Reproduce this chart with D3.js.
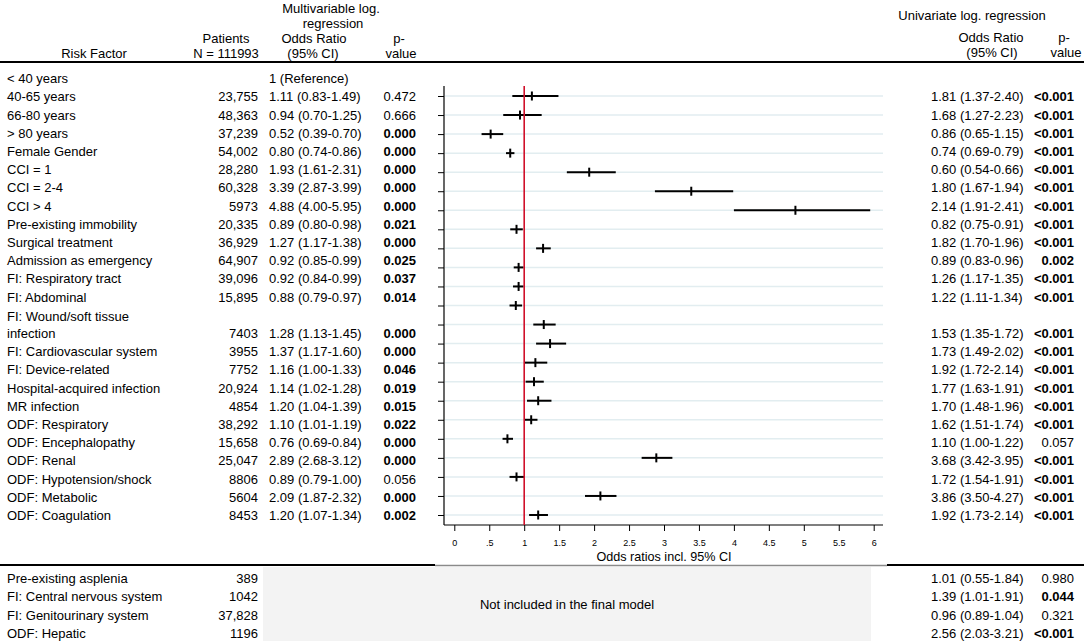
<!DOCTYPE html>
<html>
<head>
<meta charset="utf-8">
<script src="https://cdn.jsdelivr.net/npm/d3@7"></script>
<style>
  body { margin: 0; background: #fff; }
  svg { display: block; font-family: "Liberation Sans", Arial, sans-serif; }
</style>
</head>
<body>
<svg id="chart" width="1084" height="644"></svg>
<script>
// ---------- DATA ----------
const factors = ["40-65 years", "66-80 years", "> 80 years", "Female Gender", "CCI = 1", "CCI = 2-4", "CCI > 4",
  "Pre-existing immobility", "Surgical treatment", "Admission as emergency", "FI: Respiratory tract", "FI: Abdominal",
  "FI: Wound/soft tissue|infection", "FI: Cardiovascular system", "FI: Device-related", "Hospital-acquired infection",
  "MR infection", "ODF: Respiratory", "ODF: Encephalopathy", "ODF: Renal", "ODF: Hypotension/shock",
  "ODF: Metabolic", "ODF: Coagulation"];
const patients = ["23,755", "48,363", "37,239", "54,002", "28,280", "60,328", "5973", "20,335", "36,929", "64,907",
  "39,096", "15,895", "7403", "3955", "7752", "20,924", "4854", "38,292", "15,658", "25,047", "8806", "5604", "8453"];
const orMulti = [1.11, 0.94, 0.52, 0.80, 1.93, 3.39, 4.88, 0.89, 1.27, 0.92, 0.92, 0.88, 1.28, 1.37, 1.16, 1.14, 1.20, 1.10, 0.76, 2.89, 0.89, 2.09, 1.20];
const loMulti = [0.83, 0.70, 0.39, 0.74, 1.61, 2.87, 4.00, 0.80, 1.17, 0.85, 0.84, 0.79, 1.13, 1.17, 1.00, 1.02, 1.04, 1.01, 0.69, 2.68, 0.79, 1.87, 1.07];
const hiMulti = [1.49, 1.25, 0.70, 0.86, 2.31, 3.99, 5.95, 0.98, 1.38, 0.99, 0.99, 0.97, 1.45, 1.60, 1.33, 1.28, 1.39, 1.19, 0.84, 3.12, 1.00, 2.32, 1.34];
const pMulti = ["0.472", "0.666", "0.000", "0.000", "0.000", "0.000", "0.000", "0.021", "0.000", "0.025", "0.037", "0.014",
  "0.000", "0.000", "0.046", "0.019", "0.015", "0.022", "0.000", "0.000", "0.056", "0.000", "0.002"];
const orUni = [1.81, 1.68, 0.86, 0.74, 0.60, 1.80, 2.14, 0.82, 1.82, 0.89, 1.26, 1.22, 1.53, 1.73, 1.92, 1.77, 1.70, 1.62, 1.10, 3.68, 1.72, 3.86, 1.92];
const loUni = [1.37, 1.27, 0.65, 0.69, 0.54, 1.67, 1.91, 0.75, 1.70, 0.83, 1.17, 1.11, 1.35, 1.49, 1.72, 1.63, 1.48, 1.51, 1.00, 3.42, 1.54, 3.50, 1.73];
const hiUni = [2.40, 2.23, 1.15, 0.79, 0.66, 1.94, 2.41, 0.91, 1.96, 0.96, 1.35, 1.34, 1.72, 2.02, 2.14, 1.91, 1.96, 1.74, 1.22, 3.95, 1.91, 4.27, 2.14];
const pUni = ["<0.001", "<0.001", "<0.001", "<0.001", "<0.001", "<0.001", "<0.001", "<0.001", "<0.001", "0.002", "<0.001", "<0.001",
  "<0.001", "<0.001", "<0.001", "<0.001", "<0.001", "<0.001", "0.057", "<0.001", "<0.001", "<0.001", "<0.001"];

const refLabel = "< 40 years";
const refText = "1 (Reference)";

const exFactors = ["Pre-existing asplenia", "FI: Central nervous system", "FI: Genitourinary system", "ODF: Hepatic"];
const exPatients = ["389", "1042", "37,828", "1196"];
const exOr = [1.01, 1.39, 0.96, 2.56];
const exLo = [0.55, 1.01, 0.89, 2.03];
const exHi = [1.84, 1.91, 1.04, 3.21];
const exP = ["0.980", "0.044", "0.321", "<0.001"];
const exNote = "Not included in the final model";

const xTicks = [0, 0.5, 1, 1.5, 2, 2.5, 3, 3.5, 4, 4.5, 5, 5.5, 6];
const xTitle = "Odds ratios incl. 95% CI";

// ---------- HELPERS ----------
const fmt = d3.format(".2f");
const ciText = (o, l, h) => `${fmt(o)} (${fmt(l)}-${fmt(h)})`;
const pNum = s => s.startsWith("<") ? parseFloat(s.slice(1)) * 0.9 : parseFloat(s);
const isBold = s => pNum(s) < 0.05;

const svg = d3.select("#chart");
const FS = 13;

function txt(x, y, s, anchor = "start", opts = {}) {
  return svg.append("text")
    .attr("x", x).attr("y", y)
    .attr("dy", opts.dy ?? "0.36em")
    .attr("text-anchor", anchor)
    .attr("font-size", opts.size ?? FS)
    .attr("font-weight", opts.bold ? "bold" : "normal")
    .attr("fill", "#000")
    .text(s);
}

// ---------- HEADER ----------
const hdr = [
  [94, 58, "Risk Factor"],
  [226, 43, "Patients"], [226, 58, "N = 111993"],
  [331, 13, "Multivariable log."], [333, 28, "regression"],
  [314, 43, "Odds Ratio"], [313, 58, "(95% CI)"],
  [399, 43, "p-"], [401, 58, "value"],
  [972, 20, "Univariate log. regression"],
  [991, 42, "Odds Ratio"], [992, 57, "(95% CI)"],
  [1064, 42, "p-"], [1066, 57, "value"]
];
hdr.forEach(h => txt(h[0], h[1], h[2], "middle", { dy: "0" }));

svg.append("line").attr("x1", 0).attr("x2", 1084).attr("y1", 62).attr("y2", 62)
  .attr("stroke", "#000").attr("stroke-width", 2);

// ---------- TABLE ROWS (text lines) ----------
// text line index: the wrapped wound row takes two lines
const lineIdx = factors.map((f, i) => i + (i > 12 ? 1 : 0) + (f.includes("|") ? 1 : 0));
const lineY = d3.scaleLinear().domain([0, 23]).range([96.7, 515.3]);

// reference row
txt(7, lineY(-1), refLabel);
txt(269, lineY(-1), refText);

factors.forEach((f, i) => {
  const yv = lineY(lineIdx[i]);
  const parts = f.split("|");
  if (parts.length > 1) {
    txt(7, lineY(lineIdx[i] - 1) + 1.5, parts[0]);
    txt(7, yv, parts[1]);
  } else {
    txt(7, yv, f);
  }
  txt(258, yv, patients[i], "end");
  txt(269, yv, ciText(orMulti[i], loMulti[i], hiMulti[i]));
  txt(416, yv, pMulti[i], "end", { bold: isBold(pMulti[i]) });
  txt(931, yv, ciText(orUni[i], loUni[i], hiUni[i]));
  txt(1074, yv, pUni[i], "end", { bold: isBold(pUni[i]) });
});

// ---------- FOREST PLOT ----------
const x = d3.scaleLinear().domain([0, 6]).range([454.3, 873.7]);
const y = d3.scalePoint().domain(d3.range(factors.length)).range([96, 515]);
const plotL = 444, plotR = 883, plotT = 86, plotB = 525;

const g = svg.append("g");

// gridlines
g.selectAll("line.grid").data(d3.range(factors.length)).join("line")
  .attr("class", "grid")
  .attr("x1", plotL + 1).attr("x2", plotR)
  .attr("y1", d => y(d)).attr("y2", d => y(d))
  .attr("stroke", "#e2edf0").attr("stroke-width", 1.5);

// y axis ticks
const yAxis = d3.axisLeft(y).tickSize(6).tickSizeOuter(0).tickFormat("");
const ya = g.append("g").attr("transform", `translate(${plotL},0)`).call(yAxis);
ya.select(".domain").remove();
ya.selectAll(".tick line").attr("stroke", "#000");
g.append("line").attr("x1", plotL).attr("x2", plotL).attr("y1", plotT).attr("y2", plotB)
  .attr("stroke", "#000").attr("stroke-width", 1.2);

// x axis
const xAxis = d3.axisBottom(x).tickValues(xTicks).tickSize(6).tickPadding(8.5)
  .tickFormat(d => String(d).replace(/^0\./, "."));
const xa = g.append("g").attr("transform", `translate(0,${plotB})`).call(xAxis);
xa.select(".domain").remove();
xa.selectAll(".tick line").attr("stroke", "#000");
xa.selectAll(".tick text").attr("font-size", 9).attr("fill", "#000")
  .attr("font-family", "'Liberation Sans', Arial, sans-serif");
g.append("line").attr("x1", plotL).attr("x2", plotR).attr("y1", plotB).attr("y2", plotB)
  .attr("stroke", "#000").attr("stroke-width", 1.2);

txt((x(0) + x(6)) / 2, 561, xTitle, "middle", { dy: "0", size: 12.6 });

// CI lines
g.selectAll("line.ci").data(d3.range(factors.length)).join("line")
  .attr("class", "ci")
  .attr("x1", d => x(loMulti[d])).attr("x2", d => x(hiMulti[d]))
  .attr("y1", d => y(d)).attr("y2", d => y(d))
  .attr("stroke", "#000").attr("stroke-width", 2);

// reference line at OR = 1
g.append("line").attr("x1", x(1)).attr("x2", x(1)).attr("y1", plotT).attr("y2", plotB)
  .attr("stroke", "#d0102a").attr("stroke-width", 1.6);

// point markers
g.selectAll("line.pt").data(d3.range(factors.length)).join("line")
  .attr("class", "pt")
  .attr("x1", d => x(orMulti[d])).attr("x2", d => x(orMulti[d]))
  .attr("y1", d => y(d) - 4.5).attr("y2", d => y(d) + 4.5)
  .attr("stroke", "#000").attr("stroke-width", 2);

// ---------- BOTTOM SECTION ----------
svg.append("line").attr("x1", 0).attr("x2", 435).attr("y1", 565).attr("y2", 565)
  .attr("stroke", "#000").attr("stroke-width", 2);
svg.append("line").attr("x1", 435).attr("x2", 887).attr("y1", 565.5).attr("y2", 565.5)
  .attr("stroke", "#8a8a8a").attr("stroke-width", 1.5);
svg.append("line").attr("x1", 887).attr("x2", 1084).attr("y1", 565).attr("y2", 565)
  .attr("stroke", "#000").attr("stroke-width", 2);

svg.append("rect").attr("x", 263).attr("y", 567).attr("width", 608).attr("height", 74)
  .attr("fill", "#f3f3f3");
txt(567, 604, exNote, "middle");

const exY = d3.scaleLinear().domain([0, 3]).range([578.3, 633.8]);
exFactors.forEach((f, i) => {
  const yv = exY(i);
  txt(7, yv, f);
  txt(258, yv, exPatients[i], "end");
  txt(931, yv, ciText(exOr[i], exLo[i], exHi[i]));
  txt(1074, yv, exP[i], "end", { bold: isBold(exP[i]) });
});
</script>
</body>
</html>
